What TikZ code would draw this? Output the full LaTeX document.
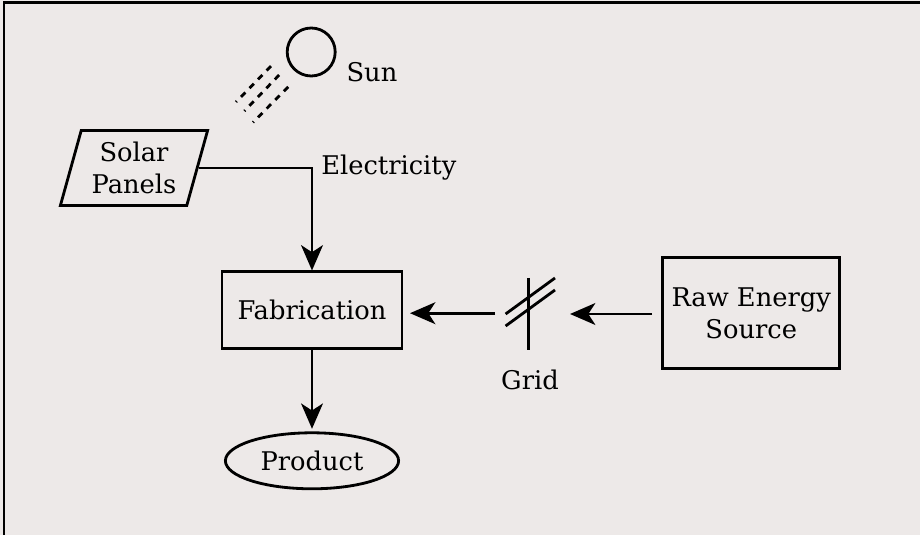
\documentclass[tikz,border=0pt]{standalone}
\usepackage{fontspec}
\setmainfont{DejaVu Serif}
\usetikzlibrary{arrows.meta,shapes.geometric}
\definecolor{paper}{RGB}{237,233,232}

\tikzset{
  box/.style={draw,line width=2pt,inner sep=0pt,align=center},
  flow/.style={line width=2pt,-{Stealth[length=18pt,width=15.5pt,inset=5pt]}},
  wire/.style={line width=2pt},
  ray/.style={line width=2pt,dash pattern=on 4.4pt off 4.3pt,dash phase=3.6pt},
  label/.style={inner sep=0pt}
}

\begin{document}
\begin{tikzpicture}[every node/.append style={font=\fontsize{18.3}{22.5}\selectfont}]
        \useasboundingbox[fill=paper] (0,0) rectangle (23,-13.375);
        \coordinate (c1) at (0.1,-13.375);
        \coordinate (c2) at (0.1,-0.065);
        \coordinate (c3) at (23,-0.065);
        \draw[line width=2.1pt] (c1) -- (c2) -- (c3);

        \node[box,circle,minimum size=1.2cm] (sun) at (7.78,-1.3){};
        \node[label] (sunlabel) at (9.3,-1.8){Sun};

        \coordinate (r1a) at (5.9,-2.55);
        \coordinate (r1b) at (6.875,-1.55);
        \coordinate (r2a) at (6.11,-2.775);
        \coordinate (r2b) at (7.075,-1.775);
        \coordinate (r3a) at (6.325,-3.06);
        \coordinate (r3b) at (7.3,-2.075);
        \draw[ray] (r1a) -- (r1b);
        \draw[ray] (r2a) -- (r2b);
        \draw[ray] (r3a) -- (r3b);

        \node[box,trapezium,trapezium left angle=68,trapezium right angle=112,trapezium stretches body=true,minimum width=3.68cm,minimum height=1.875cm] (panels) at (3.35,-4.2){Solar\\Panels};
        \node[label] (electricity) at (9.72,-4.2){Electricity};

        \node[box,minimum width=4.5cm,minimum height=1.925cm] (fabrication) at (7.8,-7.76){Fabrication};
        \node[box,ellipse,minimum width=4.33cm,minimum height=1.4cm] (product) at (7.8,-11.52){Product};
        \node[box,minimum width=4.43cm,minimum height=2.78cm] (rawsource) at (18.78,-7.83){Raw Energy\\Source};

        \coordinate (g1) at (13.22,-6.95);
        \coordinate (g2) at (13.22,-8.75);
        \coordinate (g3) at (12.64,-7.85);
        \coordinate (g4) at (13.875,-6.95);
        \coordinate (g5) at (12.64,-8.15);
        \coordinate (g6) at (13.875,-7.25);
        \draw[wire] (g1) -- (g2);
        \draw[wire] (g3) -- (g4);
        \draw[wire] (g5) -- (g6);
        \node[label] (gridlabel) at (13.25,-9.5){Grid};

        \coordinate (gridin) at (14.25,-7.85);
        \coordinate (rawout) at (16.3,-7.85);
        \coordinate (gridout) at (12.38,-7.83);
        \coordinate (fabin) at (10.25,-7.83);
        \coordinate (fabout) at (7.8,-8.72);
        \coordinate (prodin) at (7.8,-10.72);

        \draw[flow] (panels.east) -| (fabrication.north);
        \draw[flow] (rawout) -- (gridin);
        \draw[flow] (gridout) -- (fabin);
        \draw[flow] (fabout) -- (prodin);
    \end{tikzpicture}
\end{document}
